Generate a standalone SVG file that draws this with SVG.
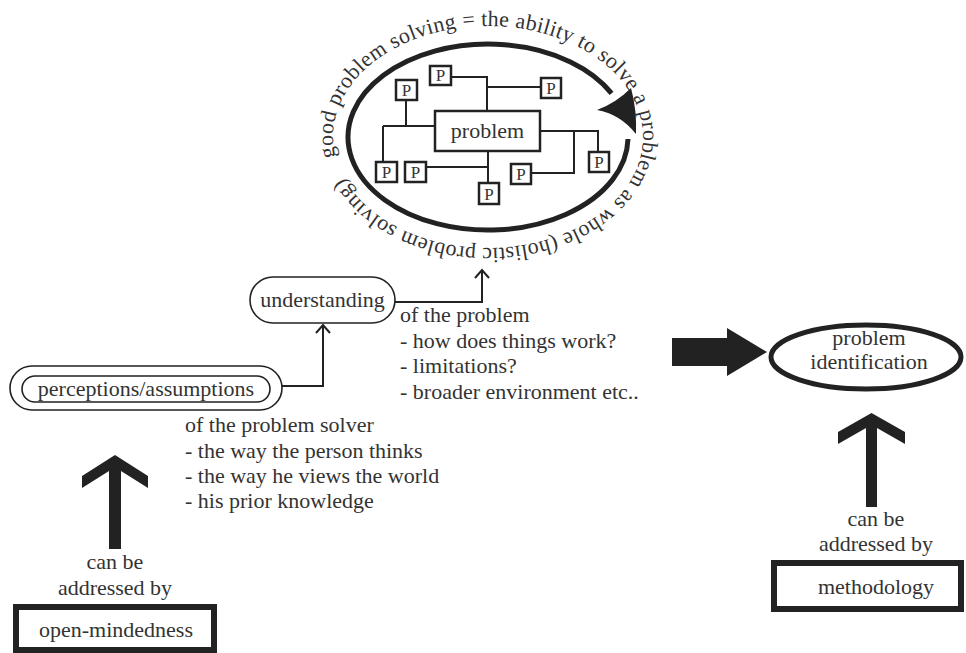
<svg xmlns="http://www.w3.org/2000/svg" xmlns:xlink="http://www.w3.org/1999/xlink" width="966" height="653" viewBox="0 0 966 653" font-family="'Liberation Serif', 'DejaVu Serif', serif">
<style>
text{font-family:'Liberation Serif','DejaVu Serif',serif;font-size:22px;fill:#333}
.c{text-anchor:middle}
.pl{font-size:17px}
.ln{fill:none;stroke:#222;stroke-width:2}
.pb{fill:#fff;stroke:#222;stroke-width:2.5}
.bar{fill:#222;stroke:none}
.thin{fill:#fff;stroke:#222;stroke-width:1.6}
.box{fill:#fff;stroke:#222;stroke-width:6}
</style>
<defs>
<path id="arcText" d="M488,248 A155,111 0 0 1 488,26 A155,111 0 0 1 488,248 A155,111 0 0 1 488,26"/>
</defs>

<g id="holistic">
<path d="M628,139 A140,93 0 1 1 611.6,93.4" fill="none" stroke="#222" stroke-width="5"/>
<path d="M631,88 Q616,103 597,110 Q620,114 636,134 Q637,110 631,88 Z" fill="#222"/>
<text style="letter-spacing:0.3px"><textPath xlink:href="#arcText" href="#arcText" startOffset="190">good problem solving = the ability to solve a problem as whole (holistic problem solving)</textPath></text>
</g>

<g id="inner-links">
<path class="ln" d="M451,77 H487 V111 M487,87 H541"/>
<path class="ln" d="M406,100 V126 M383,126 H435 M383,126 V162"/>
<path class="ln" d="M488,151 V183 M426,167 H488"/>
<path class="ln" d="M540,131 H598 V152 M574,131 V173 H531"/>
</g>

<g id="problem-core">
<rect class="pb" x="435" y="111" width="105" height="40"/>
<text class="c" x="487.5" y="138">problem</text>
</g>
<g id="p1"><rect class="pb" x="430" y="66" width="21" height="19"/><text class="c pl" x="440.5" y="81">P</text></g>
<g id="p2"><rect class="pb" x="396" y="80" width="21" height="20"/><text class="c pl" x="406.5" y="96">P</text></g>
<g id="p3"><rect class="pb" x="541" y="78" width="20" height="20"/><text class="c pl" x="551" y="94">P</text></g>
<g id="p4"><rect class="pb" x="376" y="162" width="21" height="20"/><text class="c pl" x="386.5" y="178">P</text></g>
<g id="p5"><rect class="pb" x="405" y="162" width="21" height="20"/><text class="c pl" x="415.5" y="178">P</text></g>
<g id="p6"><rect class="pb" x="479" y="183" width="20" height="21"/><text class="c pl" x="489" y="200">P</text></g>
<g id="p7"><rect class="pb" x="511" y="164" width="20" height="20"/><text class="c pl" x="521" y="180">P</text></g>
<g id="p8"><rect class="pb" x="589" y="152" width="20" height="20"/><text class="c pl" x="599" y="168">P</text></g>

<g id="connectors">
<path class="ln" d="M282,386 H323 V325"/>
<path class="ln" d="M316,333 L323,325 L330,333"/>
<path class="ln" d="M395,302 H482 V270"/>
<path class="ln" d="M475,278 L482,270 L489,278"/>
<path class="bar" d="M672,338 H727 V328 L767,352 L727,376 V366 H672 Z"/>
<path class="bar" d="M115,455 L148,476 V488 L121,471 V549 H109 V471 L82,488 V476 Z"/>
<path class="bar" d="M871.5,413 L905,432 V444 L877,428 V507 H866 V428 L838,444 V432 Z"/>
</g>

<g id="understanding">
<rect class="thin" x="250" y="277" width="145" height="46" rx="23"/>
<text class="c" x="322.5" y="307">understanding</text>
</g>

<g id="understanding-notes">
<text x="400" y="322">of the problem</text>
<text x="400" y="347.5">- how does things work?</text>
<text x="400" y="373">- limitations?</text>
<text x="400" y="399">- broader environment etc..</text>
</g>

<g id="perceptions">
<rect class="thin" x="10" y="366" width="272" height="44" rx="22"/>
<rect class="thin" x="22" y="376" width="248" height="26" rx="13"/>
<text class="c" x="146" y="396">perceptions/assumptions</text>
</g>

<g id="perceptions-notes">
<text x="185" y="432">of the problem solver</text>
<text x="185" y="457.5">- the way the person thinks</text>
<text x="185" y="483">- the way he views the world</text>
<text x="185" y="508">- his prior knowledge</text>
</g>

<g id="left-label">
<text class="c" x="115" y="569">can be</text>
<text class="c" x="115" y="595">addressed by</text>
</g>

<g id="open-mindedness">
<rect class="box" x="16" y="607" width="198" height="43"/>
<text class="c" x="116" y="637">open-mindedness</text>
</g>

<g id="problem-identification">
<ellipse cx="866" cy="357" rx="95" ry="32" fill="#fff" stroke="#222" stroke-width="5"/>
<text class="c" x="869" y="345">problem</text>
<text class="c" x="869" y="369">identification</text>
</g>

<g id="right-label">
<text class="c" x="876" y="526">can be</text>
<text class="c" x="876" y="551">addressed by</text>
</g>

<g id="methodology">
<rect class="box" x="774" y="563" width="187" height="46"/>
<text class="c" x="876" y="594">methodology</text>
</g>
</svg>
